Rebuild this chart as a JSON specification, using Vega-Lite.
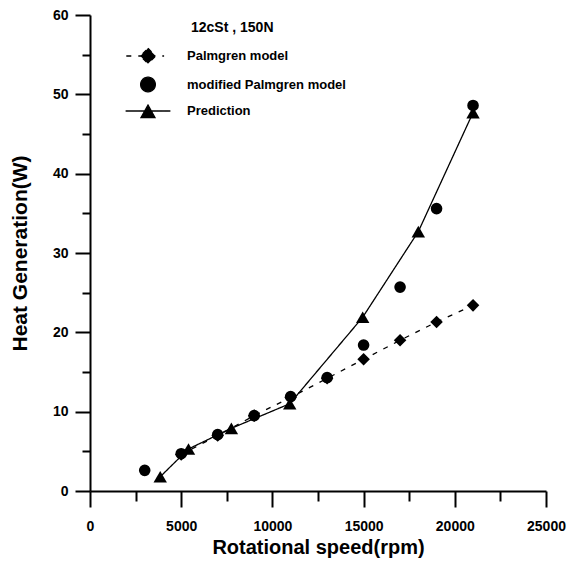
{
  "$schema": "https://vega.github.io/schema/vega-lite/v6.json",
  "width": 456,
  "height": 476,
  "autosize": "none",
  "padding": {"left": 90, "top": 15, "right": 23, "bottom": 70},
  "background": "white",
  "config": {
    "view": {"stroke": null},
    "font": "Liberation Sans",
    "axis": {
      "grid": false,
      "domainColor": "black",
      "domainWidth": 2,
      "tickColor": "black",
      "tickWidth": 2,
      "labelColor": "black",
      "labelFont": "Liberation Sans",
      "labelFontSize": 14,
      "labelFontWeight": "bold",
      "titleColor": "black",
      "titleFont": "Liberation Sans",
      "titleFontSize": 20,
      "titleFontWeight": "bold"
    }
  },
  "title": {
    "text": "12cSt , 150N",
    "anchor": "start",
    "frame": "group",
    "baseline": "middle",
    "offset": 0,
    "dx": 101,
    "dy": 34,
    "fontSize": 14,
    "fontWeight": "bold",
    "font": "Liberation Sans",
    "color": "black"
  },
  "data": {
    "values": [
      {"series": "Palmgren model", "speed": 5000, "heat": 4.6},
      {"series": "Palmgren model", "speed": 7000, "heat": 7.0},
      {"series": "Palmgren model", "speed": 9000, "heat": 9.5},
      {"series": "Palmgren model", "speed": 11000, "heat": 11.8},
      {"series": "Palmgren model", "speed": 13000, "heat": 14.2},
      {"series": "Palmgren model", "speed": 15000, "heat": 16.6},
      {"series": "Palmgren model", "speed": 17000, "heat": 19.0},
      {"series": "Palmgren model", "speed": 19000, "heat": 21.3},
      {"series": "Palmgren model", "speed": 21000, "heat": 23.4},
      {"series": "modified Palmgren model", "speed": 3000, "heat": 2.6},
      {"series": "modified Palmgren model", "speed": 5000, "heat": 4.7},
      {"series": "modified Palmgren model", "speed": 7000, "heat": 7.1},
      {"series": "modified Palmgren model", "speed": 9000, "heat": 9.5},
      {"series": "modified Palmgren model", "speed": 11000, "heat": 11.9},
      {"series": "modified Palmgren model", "speed": 13000, "heat": 14.3},
      {"series": "modified Palmgren model", "speed": 15000, "heat": 18.4},
      {"series": "modified Palmgren model", "speed": 17000, "heat": 25.7},
      {"series": "modified Palmgren model", "speed": 19000, "heat": 35.6},
      {"series": "modified Palmgren model", "speed": 21000, "heat": 48.6},
      {"series": "Prediction", "speed": 3850, "heat": 1.8},
      {"series": "Prediction", "speed": 5400, "heat": 5.3},
      {"series": "Prediction", "speed": 7750, "heat": 7.9},
      {"series": "Prediction", "speed": 10950, "heat": 11.0},
      {"series": "Prediction", "speed": 14950, "heat": 21.9},
      {"series": "Prediction", "speed": 18000, "heat": 32.7},
      {"series": "Prediction", "speed": 21000, "heat": 47.7}
    ]
  },
  "encoding": {
    "x": {
      "field": "speed",
      "type": "quantitative",
      "scale": {"domain": [0, 25000], "nice": false, "zero": false},
      "axis": {
        "title": "Rotational speed(rpm)",
        "values": [0, 2500, 5000, 7500, 10000, 12500, 15000, 17500, 20000, 22500, 25000],
        "format": "d",
        "labelExpr": "datum.value % 5000 === 0 ? datum.label : ''",
        "tickSize": {"condition": {"test": "datum.value % 5000 === 0", "value": 16}, "value": 10},
        "labelPadding": 12,
        "titlePadding": 4,
        "labelFlush": false
      }
    },
    "y": {
      "field": "heat",
      "type": "quantitative",
      "scale": {"domain": [0, 60], "nice": false},
      "axis": {
        "title": "Heat Generation(W)",
        "values": [0, 5, 10, 15, 20, 25, 30, 35, 40, 45, 50, 55, 60],
        "labelExpr": "datum.value % 10 === 0 ? datum.label : ''",
        "tickSize": {"condition": {"test": "datum.value % 10 === 0", "value": 15}, "value": 8},
        "labelPadding": 7,
        "titlePadding": 22,
        "titleFontSize": 21,
        "labelFlush": false
      }
    }
  },
  "layer": [
    {
      "transform": [{"filter": "datum.series !== 'modified Palmgren model'"}],
      "mark": {"type": "line", "interpolate": "linear", "color": "black", "strokeWidth": 1.3},
      "encoding": {
        "detail": {"field": "series"},
        "strokeDash": {
          "field": "series",
          "scale": {
            "domain": ["Palmgren model", "modified Palmgren model", "Prediction"],
            "range": [[5, 7], [1, 0], [1, 0]]
          },
          "legend": {
            "title": null,
            "orient": "none",
            "legendX": 50,
            "legendY": 33,
            "rowPadding": 7.5,
            "symbolSize": 196,
            "symbolType": {"expr": "datum.value === 'Palmgren model' ? 'M-3.1,0L2.3,0 M0,-1.1L1.1,0L0,1.1L-1.1,0Z' : datum.value === 'Prediction' ? 'M-3.2,0L3.2,0 M0,-0.85L1,0.95L-1,0.95Z' : 'M1.05,0A1.05,1.05,0,1,1,-1.05,0A1.05,1.05,0,1,1,1.05,0Z'"},
            "symbolFillColor": "black",
            "symbolStrokeColor": "black",
            "symbolStrokeWidth": 1.3,
            "symbolOpacity": 1,
            "labelOffset": 31,
            "labelFont": "Liberation Sans",
            "labelFontSize": 13,
            "labelFontWeight": "bold",
            "labelColor": "black",
            "labelLimit": 300
          }
        }
      }
    },
    {
      "mark": {"type": "point", "filled": true, "color": "black", "opacity": 1},
      "encoding": {
        "shape": {
          "field": "series",
          "scale": {
            "domain": ["modified Palmgren model", "Palmgren model", "Prediction"],
            "range": ["circle", "diamond", "triangle-up"]
          },
          "legend": null
        },
        "size": {
          "field": "series",
          "scale": {
            "domain": ["modified Palmgren model", "Palmgren model", "Prediction"],
            "range": [135, 180, 180]
          },
          "legend": null
        }
      }
    }
  ]
}
